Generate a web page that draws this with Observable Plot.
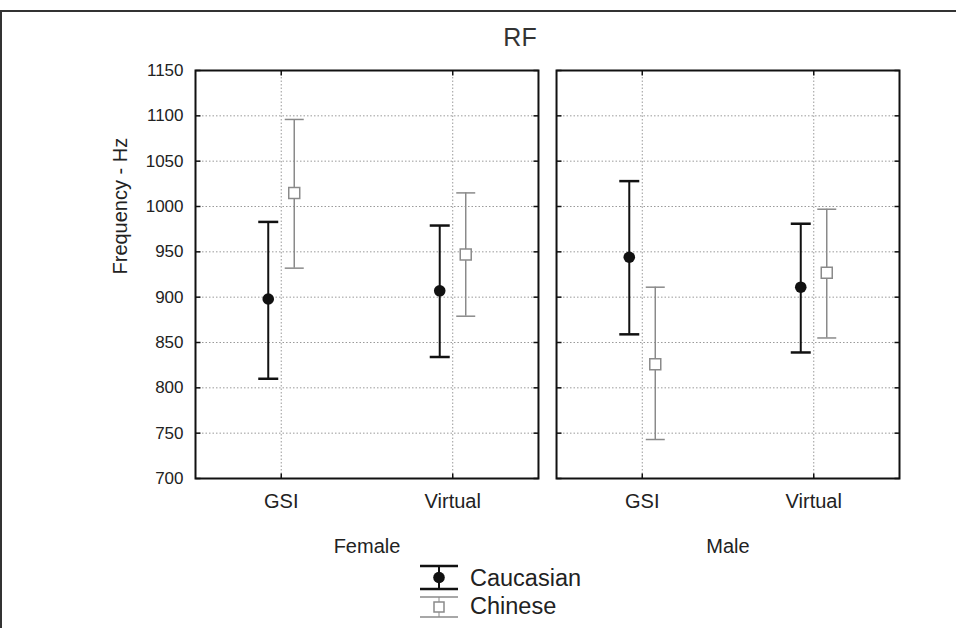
<!DOCTYPE html>
<html>
<head>
<meta charset="utf-8">
<script src="https://cdn.jsdelivr.net/npm/d3@7"></script>
<script src="https://cdn.jsdelivr.net/npm/@observablehq/plot@0.6"></script>
<style>
  body { margin: 0; background: #fff; font-family: "Liberation Sans", Arial, sans-serif; }
  #wrap { position: relative; width: 956px; height: 628px; overflow: hidden; background: #fff; }
  #border { position: absolute; left: 0; top: 10px; width: 1000px; height: 700px;
            border-top: 2px solid #333; border-left: 2px solid #333; box-sizing: border-box; }
  #chart { position: absolute; left: 0; top: 0; }
  #overlay { position: absolute; left: 0; top: 0; }
</style>
</head>
<body>
<div id="wrap">
  <div id="border"></div>
  <div id="chart"></div>
  <svg id="overlay" width="956" height="628" font-family="Liberation Sans, Arial, sans-serif">
    <text x="520" y="46" text-anchor="middle" font-size="25" fill="#333">RF</text>
    <g id="legend"></g>
  </svg>
</div>
<script>
// ---- data ----
const panels = ["Female", "Female", "Male", "Male"];
const groups = ["GSI", "Virtual", "GSI", "Virtual"];
const panelNames = ["Female", "Male"];
const groupNames = ["GSI", "Virtual"];
const seriesNames = ["Caucasian", "Chinese"];

const caucasianMean = [898, 907, 944, 911];
const caucasianLow  = [810, 834, 859, 839];
const caucasianHigh = [983, 979, 1028, 981];

const chineseMean = [1015, 947, 826, 927];
const chineseLow  = [932, 879, 743, 855];
const chineseHigh = [1096, 1015, 911, 997];

const yTicks = [700, 750, 800, 850, 900, 950, 1000, 1050, 1100, 1150];
const yLabel = "Frequency - Hz";

// ---- table built from the arrays ----
const rows = panels.map((p, i) => ({
  panel: p, group: groups[i],
  cm: caucasianMean[i], cl: caucasianLow[i], ch: caucasianHigh[i],
  zm: chineseMean[i], zl: chineseLow[i], zh: chineseHigh[i]
}));

// line-shaped symbols for caps and inward ticks
const seg = (x0, y0, x1, y1) => ({ draw(c) { c.moveTo(x0, y0); c.lineTo(x1, y1); } });
const capC = seg(-10, 0, 10, 0);
const capZ = seg(-9.5, 0, 9.5, 0);
const tickL = seg(0, 0, 5, 0);
const tickR = seg(-5, 0, 0, 0);
const tickT = seg(0, 0, 0, 5);
const tickB = seg(0, -5, 0, 0);

const black = "#111";
const gray = "#8a8a8a";
const gridStyle = { stroke: "#9a9a9a", strokeOpacity: 1, strokeWidth: 1, strokeDasharray: "1.5,2" };

const chart = Plot.plot({
  width: 956, height: 628,
  marginLeft: 195, marginRight: 57, marginTop: 70, marginBottom: 150,
  style: { fontFamily: "Liberation Sans, Arial, sans-serif", color: "#222", background: "transparent", overflow: "visible" },
  fx: { domain: panelNames, paddingInner: 0.05, paddingOuter: 0, round: false, axis: null },
  x: { type: "point", domain: groupNames, padding: 0.5, round: false, axis: null },
  y: { domain: [700, 1150], axis: null },
  marks: [
    Plot.gridY(yTicks, gridStyle),
    Plot.gridX(groupNames, gridStyle),
    Plot.frame({ stroke: black, strokeWidth: 2 }),
    // inward ticks
    Plot.dot(yTicks, { y: d => d, frameAnchor: "left", symbol: tickL, r: 1, fill: "none", stroke: black, strokeWidth: 1.5 }),
    Plot.dot(yTicks, { y: d => d, frameAnchor: "right", symbol: tickR, r: 1, fill: "none", stroke: black, strokeWidth: 1.5 }),
    Plot.dot(groupNames, { x: d => d, frameAnchor: "top", symbol: tickT, r: 1, fill: "none", stroke: black, strokeWidth: 1.5 }),
    Plot.dot(groupNames, { x: d => d, frameAnchor: "bottom", symbol: tickB, r: 1, fill: "none", stroke: black, strokeWidth: 1.5 }),
    // axes
    Plot.axisY(yTicks, { anchor: "left", tickSize: 0, tickPadding: 12, fontSize: 17, label: null, fill: "#222", tickFormat: d => String(d) }),
    Plot.axisX(groupNames, { anchor: "bottom", tickSize: 0, tickPadding: 15, fontSize: 20, label: null, fill: "#222" }),
    Plot.text([yLabel], { fx: [panelNames[0]], text: d => d, frameAnchor: "left", rotate: -90, dx: -75, fontSize: 20, fill: "#222" }),
    Plot.text(panelNames, { fx: d => d, text: d => d, frameAnchor: "bottom", lineAnchor: "top", dy: 60, fontSize: 20, fill: "#222" }),
    // Chinese error bars
    Plot.ruleX(rows, { fx: "panel", x: "group", y1: "zl", y2: "zh", dx: 13, stroke: gray, strokeWidth: 1.5 }),
    Plot.dot(rows, { fx: "panel", x: "group", y: "zh", dx: 13, symbol: capZ, r: 1, fill: "none", stroke: gray, strokeWidth: 1.5 }),
    Plot.dot(rows, { fx: "panel", x: "group", y: "zl", dx: 13, symbol: capZ, r: 1, fill: "none", stroke: gray, strokeWidth: 1.5 }),
    Plot.dot(rows, { fx: "panel", x: "group", y: "zm", dx: 13, symbol: "square", r: 6.2, fill: "#fff", stroke: gray, strokeWidth: 1.5 }),
    // Caucasian error bars
    Plot.ruleX(rows, { fx: "panel", x: "group", y1: "cl", y2: "ch", dx: -13, stroke: black, strokeWidth: 2 }),
    Plot.dot(rows, { fx: "panel", x: "group", y: "ch", dx: -13, symbol: capC, r: 1, fill: "none", stroke: black, strokeWidth: 2.5 }),
    Plot.dot(rows, { fx: "panel", x: "group", y: "cl", dx: -13, symbol: capC, r: 1, fill: "none", stroke: black, strokeWidth: 2.5 }),
    Plot.dot(rows, { fx: "panel", x: "group", y: "cm", dx: -13, symbol: "circle", r: 5.8, fill: black, stroke: "none" })
  ]
});
document.getElementById("chart").appendChild(chart);

// ---- legend ----
const ns = "http://www.w3.org/2000/svg";
const lg = document.getElementById("legend");
function el(tag, attrs, text) {
  const e = document.createElementNS(ns, tag);
  for (const k in attrs) e.setAttribute(k, attrs[k]);
  if (text) e.textContent = text;
  lg.appendChild(e);
  return e;
}
const legendItems = [
  { name: seriesNames[0], top: 566, bottom: 589, color: black, w: 2.5, marker: "circle", baseline: 586 },
  { name: seriesNames[1], top: 597, bottom: 617, color: gray, w: 1.5, marker: "square", baseline: 614 }
];
for (const it of legendItems) {
  const cx = 439, mid = (it.top + it.bottom) / 2;
  el("line", { x1: cx - 19, x2: cx + 19, y1: it.top, y2: it.top, stroke: it.color, "stroke-width": it.w });
  el("line", { x1: cx - 19, x2: cx + 19, y1: it.bottom, y2: it.bottom, stroke: it.color, "stroke-width": it.w });
  el("line", { x1: cx, x2: cx, y1: it.top, y2: it.bottom, stroke: it.color, "stroke-width": it.w - 0.5 });
  if (it.marker === "circle") el("circle", { cx, cy: mid, r: 5.8, fill: black });
  else el("rect", { x: cx - 5, y: mid - 5, width: 10, height: 10, fill: "#fff", stroke: gray, "stroke-width": 1.5 });
  el("text", { x: 470, y: it.baseline, "font-size": 23.5, fill: "#222" }, it.name);
}
</script>
</body>
</html>
